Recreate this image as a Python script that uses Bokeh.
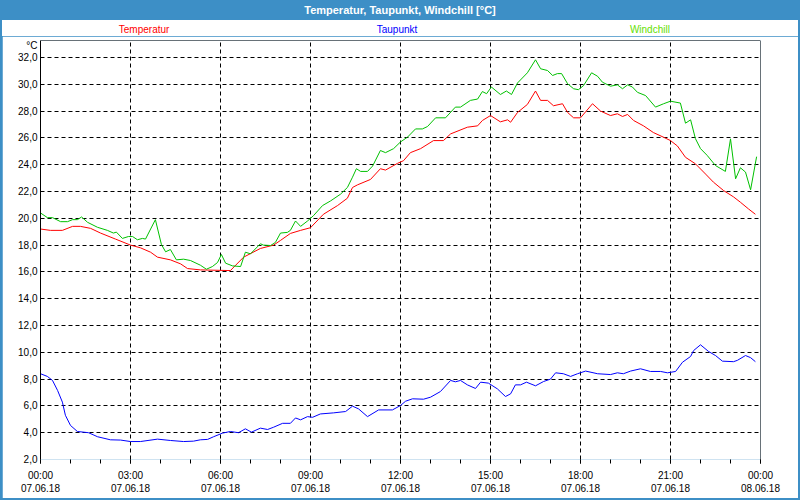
from bokeh.plotting import figure
from bokeh.models import FixedTicker, Span, Div
from bokeh.layouts import column
from bokeh.embed import file_html
from bokeh.resources import INLINE

# ---- data (hours since 07.06.18 00:00) ----
temp_h = [0, 0.33, 0.73, 1.07, 1.33, 1.67, 2.0, 2.5, 3.0, 3.33, 3.67, 3.9, 4.33, 4.67, 4.9,
          5.33, 6.33, 6.77, 7.33, 7.77, 8.0, 8.33, 8.67, 9.0, 9.43, 9.9, 10.23, 10.4, 10.57,
          11.0, 11.33, 11.5, 11.9, 12.1, 12.33, 12.67, 13.1, 13.43, 13.67, 14.23, 14.57, 14.73,
          15.0, 15.33, 15.57, 15.67, 15.9, 16.23, 16.5, 16.67, 16.9, 17.1, 17.4, 17.57, 17.77,
          18.0, 18.4, 18.67, 19.0, 19.23, 19.4, 19.57, 19.77, 20.1, 20.43, 20.77, 21.0, 21.23,
          21.5, 21.83, 22.17, 22.43, 22.77, 23.1, 23.33, 23.6, 23.83]
temp_v = [19.2, 19.1, 19.1, 19.4, 19.4, 19.25, 18.9, 18.45, 18.0, 17.8, 17.47, 17.1, 16.9, 16.6, 16.25,
          16.15, 16.1, 17.1, 17.75, 18.0, 18.35, 18.87, 19.1, 19.3, 20.3, 20.95, 21.5, 22.3, 22.5,
          22.9, 23.7, 23.6, 24.1, 24.3, 24.9, 25.2, 25.8, 25.8, 26.3, 26.8, 26.9, 27.3,
          27.67, 27.2, 27.35, 27.17, 27.9, 28.5, 29.5, 28.8, 28.8, 28.4, 28.55, 27.9, 27.5,
          27.5, 28.55, 28.0, 27.67, 27.8, 27.6, 27.75, 27.3, 26.9, 26.4, 26.05, 25.8, 25.4,
          24.55, 24.07, 23.3, 22.7, 22.07, 21.6, 21.2, 20.7, 20.3]

dew_h = [0, 0.23, 0.4, 0.57, 0.73, 0.83, 1.0, 1.23, 1.6, 1.9, 2.33, 2.67, 3.0, 3.33, 3.9, 4.33,
         4.77, 5.1, 5.33, 5.57, 5.77, 6.07, 6.33, 6.6, 6.83, 7.03, 7.33, 7.57, 7.77, 8.07, 8.33,
         8.5, 8.67, 8.9, 9.07, 9.33, 9.77, 10.17, 10.4, 10.6, 10.9, 11.27, 11.73, 12.0, 12.17,
         12.4, 12.77, 13.0, 13.33, 13.67, 13.83, 14.0, 14.23, 14.5, 14.67, 14.93, 15.23, 15.5,
         15.67, 15.83, 16.0, 16.2, 16.5, 16.77, 17.0, 17.17, 17.43, 17.67, 17.9, 18.17, 18.57,
         19.0, 19.23, 19.43, 19.67, 20.0, 20.33, 20.67, 20.9, 21.17, 21.4, 21.67, 21.77, 22.0,
         22.27, 22.5, 22.73, 23.1, 23.23, 23.5, 23.67, 23.83]
dew_v = [8.4, 8.2, 7.9, 7.15, 6.28, 5.3, 4.54, 4.09, 4.0, 3.7, 3.47, 3.45, 3.34, 3.34, 3.52, 3.42,
         3.34, 3.37, 3.47, 3.5, 3.7, 3.97, 4.09, 4.0, 4.29, 4.04, 4.34, 4.24, 4.41, 4.7, 4.7,
         5.1, 4.96, 5.2, 5.15, 5.4, 5.48, 5.58, 5.98, 5.78, 5.2, 5.7, 5.7, 6.03, 6.35,
         6.53, 6.5, 6.65, 7.07, 7.9, 7.8, 7.9, 7.57, 7.3, 7.77, 7.7, 7.27, 6.7,
         6.9, 7.57, 7.57, 7.77, 7.5, 7.82, 8.0, 8.47, 8.4, 8.2, 8.4, 8.6, 8.4,
         8.34, 8.47, 8.4, 8.6, 8.77, 8.57, 8.57, 8.47, 8.57, 9.26, 9.69, 10.13, 10.56,
         10.06, 9.76, 9.34, 9.3, 9.4, 9.76, 9.6, 9.3]

wind_h = [0, 0.23, 0.4, 0.67, 0.9, 1.07, 1.23, 1.37, 1.57, 1.9, 2.23, 2.43, 2.53, 2.73, 2.93,
          3.07, 3.23, 3.4, 3.5, 3.83, 4.03, 4.17, 4.33, 4.53, 4.77, 5.0, 5.33, 5.53, 5.73, 5.9,
          6.03, 6.17, 6.4, 6.67, 6.83, 7.0, 7.33, 7.43, 7.67, 7.83, 8.0, 8.23, 8.33, 8.5, 8.67,
          8.9, 9.1, 9.4, 9.67, 10.0, 10.23, 10.4, 10.53, 10.67, 10.9, 11.07, 11.33, 11.5, 11.77,
          12.0, 12.23, 12.5, 12.73, 12.9, 13.17, 13.5, 13.83, 14.0, 14.33, 14.57, 14.73, 14.87,
          15.03, 15.33, 15.53, 15.7, 15.9, 16.23, 16.5, 16.67, 16.9, 17.07, 17.23, 17.37, 17.57,
          17.77, 17.93, 18.1, 18.37, 18.57, 18.73, 19.0, 19.23, 19.4, 19.57, 19.73, 19.9, 20.17,
          20.5, 20.77, 21.0, 21.33, 21.5, 21.67, 21.83, 22.0, 22.22, 22.5, 22.83, 23.0, 23.17,
          23.33, 23.5, 23.67, 23.87]
wind_v = [20.4, 20.05, 20.05, 19.75, 19.75, 19.9, 19.9, 20.1, 19.7, 19.33, 19.1, 18.9, 18.97, 18.5, 18.64,
          18.64, 18.4, 18.5, 18.45, 19.9, 18.05, 17.5, 17.67, 16.9, 16.95, 16.85, 16.5, 16.2, 16.4, 16.7,
          17.3, 16.65, 16.45, 16.4, 17.47, 17.35, 18.1, 18.0, 17.97, 18.2, 18.9, 18.95, 19.1, 19.8, 19.4,
          19.8, 20.2, 20.95, 21.3, 21.8, 22.3, 23.07, 23.7, 23.5, 23.5, 23.9, 25.06, 24.9, 25.2,
          25.7, 26.05, 26.67, 26.67, 26.85, 27.5, 27.5, 28.3, 28.3, 28.8, 28.9, 29.46, 29.3,
          29.8, 29.24, 29.5, 29.24, 30.1, 30.86, 31.83, 31.16, 31.03, 30.66, 30.8, 30.8, 30.04,
          29.67, 29.6, 29.9, 30.86, 30.6, 30.16, 29.86, 29.96, 29.67, 29.96, 29.8, 29.4, 29.16,
          28.3, 28.55, 28.74, 28.6, 27.1, 27.35, 25.95, 25.2, 24.7, 23.94, 23.5, 25.93, 22.95,
          23.77, 23.45, 22.13, 24.6]

series_names = ["Temperatur", "Taupunkt", "Windchill"]
title_text = "Temperatur, Taupunkt, Windchill [°C]"
unit_text = "°C"

x_ticks = [0, 3, 6, 9, 12, 15, 18, 21, 24]
x_minor_ticks = list(range(0, 25))
x_tick_labels = ["00:00\n07.06.18", "03:00\n07.06.18", "06:00\n07.06.18", "09:00\n07.06.18",
                 "12:00\n07.06.18", "15:00\n07.06.18", "18:00\n07.06.18", "21:00\n07.06.18",
                 "00:00\n08.06.18"]
y_ticks = [2, 4, 6, 8, 10, 12, 14, 16, 18, 20, 22, 24, 26, 28, 30, 32]
y_tick_labels = ["2,0", "4,0", "6,0", "8,0", "10,0", "12,0", "14,0", "16,0", "18,0", "20,0",
                 "22,0", "24,0", "26,0", "28,0", "30,0", "32,0"]

# ---- styling / layout ----
FONT = "Liberation Sans"
BAR = "#3d8fc6"
FIG_W = 796
BORDER_L = 38
FRAME_W = 720
BORDER_T = 4
FRAME_H = 419
BORDER_B = 39
X_MIN, X_MAX = 0, 24
Y_MIN, Y_MAX = 2.0, 33.27
PX_PER_UNIT = FRAME_H / (Y_MAX - Y_MIN)
PX_PER_HOUR = FRAME_W / (X_MAX - X_MIN)

p = figure(width=FIG_W, height=BORDER_T + FRAME_H + BORDER_B,
           x_range=(X_MIN, X_MAX), y_range=(Y_MIN, Y_MAX),
           output_backend="svg", toolbar_location=None,
           min_border_left=BORDER_L, min_border_right=FIG_W - BORDER_L - FRAME_W,
           min_border_top=BORDER_T, min_border_bottom=BORDER_B, margin=0)
p.background_fill_color = "white"
p.border_fill_color = "white"
p.outline_line_color = None

p.line(temp_h, temp_v, line_color="#ff0000", line_width=1)
p.line(wind_h, wind_v, line_color="#00c000", line_width=1)
p.line(dew_h, dew_v, line_color="#0000ff", line_width=1)

# x axis
p.xaxis.ticker = FixedTicker(ticks=x_ticks, minor_ticks=x_minor_ticks)
p.xaxis.major_label_overrides = {t: l for t, l in zip(x_ticks, x_tick_labels)}
p.xaxis.axis_line_color = None
p.xaxis.major_tick_out = 4
p.xaxis.major_tick_in = 0
p.xaxis.minor_tick_out = 4
p.xaxis.minor_tick_in = 0
p.xaxis.major_tick_line_color = "black"
p.xaxis.minor_tick_line_color = "black"
p.xaxis.major_label_standoff = 6
p.xaxis.major_label_text_font = FONT
p.xaxis.major_label_text_font_size = "10px"
p.xaxis.major_label_text_color = "black"

# y axis (the unit "°C" is shown as an extra tick label just under the frame top)
unit_pos = Y_MAX - 5 / PX_PER_UNIT
p.yaxis.ticker = FixedTicker(ticks=y_ticks + [unit_pos])
overrides = {t: l for t, l in zip(y_ticks, y_tick_labels)}
overrides[unit_pos] = unit_text
p.yaxis.major_label_overrides = overrides
p.yaxis.axis_line_color = "black"
p.yaxis.major_tick_out = 0
p.yaxis.major_tick_in = 0
p.yaxis.minor_tick_line_color = None
p.yaxis.major_label_standoff = 3
p.yaxis.major_label_text_font = FONT
p.yaxis.major_label_text_font_size = "10px"
p.yaxis.major_label_text_color = "black"

# grid
p.xgrid.ticker = FixedTicker(ticks=x_ticks)
p.ygrid.ticker = FixedTicker(ticks=y_ticks)
for g in (p.xgrid, p.ygrid):
    g.grid_line_color = "black"
    g.grid_line_dash = "4 3"
    g.grid_line_width = 1

# frame top & right solid
p.add_layout(Span(location=Y_MAX, dimension="width", line_color="black", line_width=1))
p.add_layout(Span(location=X_MAX, dimension="height", line_color="black", line_width=1))

# title bar
bar = Div(text=title_text, width=FIG_W, height=20, margin=0,
          styles={"background-color": BAR, "color": "white", "text-align": "center",
                  "font-family": FONT, "font-weight": "bold", "font-size": "11px",
                  "line-height": "20px"})

# legend row (series names, centred at these hours)
legend_colors = ["#ff0000", "#0000ff", "#66e000"]
legend_at_hour = [3.47, 11.9, 20.33]
LEG_H = 16
spans = []
for name, col, h in zip(series_names, legend_colors, legend_at_hour):
    left = BORDER_L + h * PX_PER_HOUR
    spans.append(
        f'<span style="position:absolute;left:{left:.1f}px;top:4px;transform:translateX(-50%);'
        f'color:{col};white-space:nowrap;">{name}</span>')
legend = Div(text=(f'<div style="position:relative;width:{FIG_W}px;height:{LEG_H}px;'
                   f'font-family:{FONT};font-size:10px;line-height:12px;">'
                   + "".join(spans) + "</div>"),
             width=FIG_W, height=LEG_H, margin=0,
             styles={"background-color": "white"})

layout = column(bar, legend, p, spacing=0, margin=0,
                styles={"background-color": BAR, "padding": "0px 2px 2px 2px"})

open("out.html", "w").write(file_html(layout, INLINE))
